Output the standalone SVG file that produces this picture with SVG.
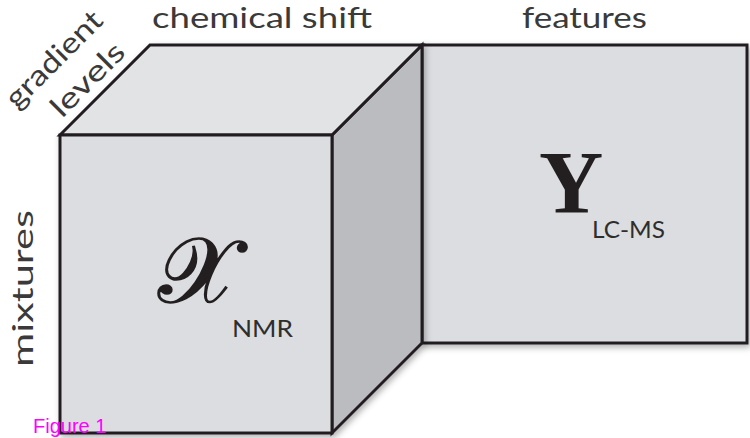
<svg xmlns="http://www.w3.org/2000/svg" width="750" height="438" viewBox="0 0 750 438">
  <style>
    .edge { stroke: #231f20; stroke-width: 3; stroke-linejoin: miter; }
    .axis { font-family: Lato, "Open Sans", "Liberation Sans", sans-serif; font-size: 29px; fill: #3a3a3a; }
    .sub { font-family: Lato, "Open Sans", "Liberation Sans", sans-serif; font-size: 24px; fill: #2e2e2e; }
  </style>
  <defs>
    <filter id="shadow" x="-10%" y="-10%" width="125%" height="125%">
      <feDropShadow dx="2" dy="3" stdDeviation="3" flood-color="#000" flood-opacity="0.3"/>
    </filter>
  </defs>
  <rect width="750" height="438" fill="#ffffff"/>

  <!-- flat block on the right: LC-MS feature table -->
  <g id="panel" filter="url(#shadow)">
    <rect x="422" y="45" width="325" height="298" fill="#dcdde0" class="edge"/>
  </g>

  <!-- three-way NMR cube -->
  <g id="cube" filter="url(#shadow)">
    <polygon points="332,135 422,45 422,343 332,433" fill="#bbbcbf" class="edge"/>
    <polygon points="60,135 150,45 422,45 332,135" fill="#e2e3e5" class="edge"/>
    <rect x="60" y="135" width="272" height="298" fill="#dcdde0" class="edge"/>
  </g>

  <!-- axis labels -->
  <g id="labels">
    <text class="axis" x="152" y="28" textLength="220" lengthAdjust="spacingAndGlyphs">chemical shift</text>
    <text class="axis" x="522" y="28" textLength="125" lengthAdjust="spacingAndGlyphs">features</text>
    <text class="axis" transform="translate(33,367) rotate(-90)" textLength="157" lengthAdjust="spacingAndGlyphs">mixtures</text>
    <text class="axis" transform="translate(17,110) rotate(-45)" textLength="124" lengthAdjust="spacingAndGlyphs">gradient</text>
    <text class="axis" transform="translate(62,119) rotate(-45)" textLength="92" lengthAdjust="spacingAndGlyphs">levels</text>
  </g>

  <!-- block symbols -->
  <g id="symbols">
    <text x="158" y="302" font-family="'DejaVu Serif', 'Liberation Serif', serif" font-size="92" fill="#231f20" stroke="#231f20" stroke-width="1.6">𝒳</text>
    <text class="sub" x="232" y="337" textLength="61" lengthAdjust="spacingAndGlyphs">NMR</text>
    <text x="539" y="212" font-family="'Liberation Serif', serif" font-weight="bold" font-size="89" fill="#231f20">Y</text>
    <text class="sub" x="592" y="238" textLength="73" lengthAdjust="spacingAndGlyphs">LC-MS</text>
  </g>

  <text x="33" y="433" font-family="'Liberation Sans', Arial, sans-serif" font-size="20" fill="#ff00ff">Figure 1</text>
</svg>
